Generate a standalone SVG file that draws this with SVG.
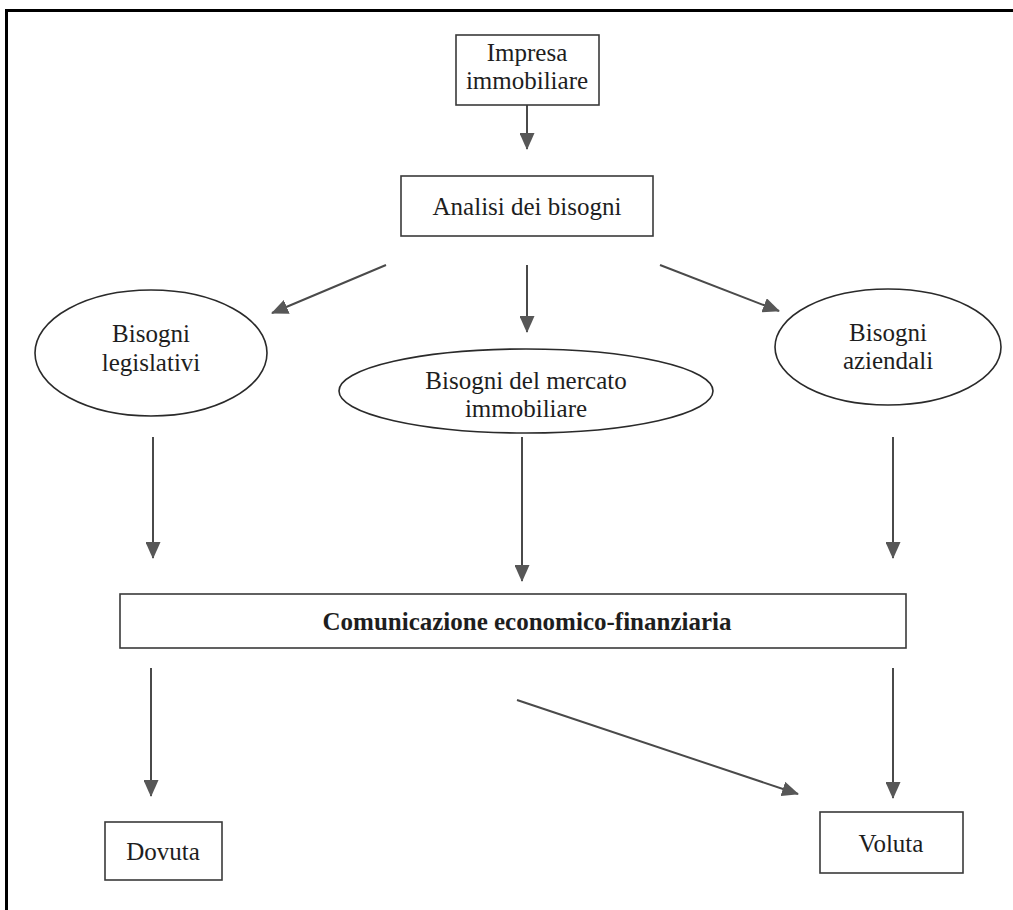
<svg xmlns="http://www.w3.org/2000/svg" width="1013" height="910" viewBox="0 0 1013 910">
  <style>
    .box { fill: #ffffff; stroke: #3a3a3a; stroke-width: 1.6; }
    .oval { fill: #ffffff; stroke: #2a2a2a; stroke-width: 1.6; }
    .lbl { font-family: "Liberation Serif", "Times New Roman", serif; font-size: 25px; fill: #1e1e1e; text-anchor: middle; }
    .bold { font-weight: bold; }
    .arrow { stroke: #4a4a4a; stroke-width: 2; fill: none; marker-end: url(#head); }
    .frame { stroke: #000000; stroke-width: 3; fill: none; }
  </style>
  <defs>
    <marker id="head" viewBox="0 0 17 15" refX="16" refY="7.5" markerWidth="17" markerHeight="15" markerUnits="userSpaceOnUse" orient="auto">
      <path d="M0,0 L17,7.5 L0,15 Z" fill="#575757"/>
    </marker>
  </defs>

  <rect width="1013" height="910" fill="#ffffff"/>

  <!-- page frame: top and left rules -->
  <path class="frame" d="M6.5,910 L6.5,10.5 L1013,10.5"/>

  <!-- connectors -->
  <g id="connectors">
    <line class="arrow" x1="527" y1="105" x2="527" y2="149"/>
    <line class="arrow" x1="386" y1="265" x2="272" y2="313"/>
    <line class="arrow" x1="527" y1="265" x2="527" y2="332"/>
    <line class="arrow" x1="660" y1="265" x2="779" y2="311"/>
    <line class="arrow" x1="153" y1="437" x2="153" y2="558"/>
    <line class="arrow" x1="522" y1="437" x2="522" y2="581"/>
    <line class="arrow" x1="893" y1="437" x2="893" y2="558"/>
    <line class="arrow" x1="151" y1="668" x2="151" y2="796"/>
    <line class="arrow" x1="517" y1="700" x2="798" y2="794"/>
    <line class="arrow" x1="893" y1="668" x2="893" y2="798"/>
  </g>

  <g id="impresa">
    <rect class="box" x="456" y="35" width="143" height="70"/>
    <text class="lbl" x="527" y="61">Impresa</text>
    <text class="lbl" x="527" y="89">immobiliare</text>
  </g>

  <g id="analisi">
    <rect class="box" x="401" y="176" width="252" height="60"/>
    <text class="lbl" x="527" y="215">Analisi dei bisogni</text>
  </g>

  <g id="legislativi">
    <ellipse class="oval" cx="151" cy="353" rx="116" ry="63"/>
    <text class="lbl" x="151" y="342">Bisogni</text>
    <text class="lbl" x="151" y="371">legislativi</text>
  </g>

  <g id="mercato">
    <ellipse class="oval" cx="526" cy="391" rx="187" ry="42"/>
    <text class="lbl" x="526" y="389">Bisogni del mercato</text>
    <text class="lbl" x="526" y="417">immobiliare</text>
  </g>

  <g id="aziendali">
    <ellipse class="oval" cx="888" cy="347" rx="113" ry="58"/>
    <text class="lbl" x="888" y="341">Bisogni</text>
    <text class="lbl" x="888" y="369">aziendali</text>
  </g>

  <g id="comunicazione">
    <rect class="box" x="120" y="594" width="786" height="54"/>
    <text class="lbl bold" x="527" y="630">Comunicazione economico-finanziaria</text>
  </g>

  <g id="dovuta">
    <rect class="box" x="105" y="822" width="117" height="58"/>
    <text class="lbl" x="163" y="860">Dovuta</text>
  </g>

  <g id="voluta">
    <rect class="box" x="820" y="812" width="143" height="61"/>
    <text class="lbl" x="891" y="852">Voluta</text>
  </g>
</svg>
